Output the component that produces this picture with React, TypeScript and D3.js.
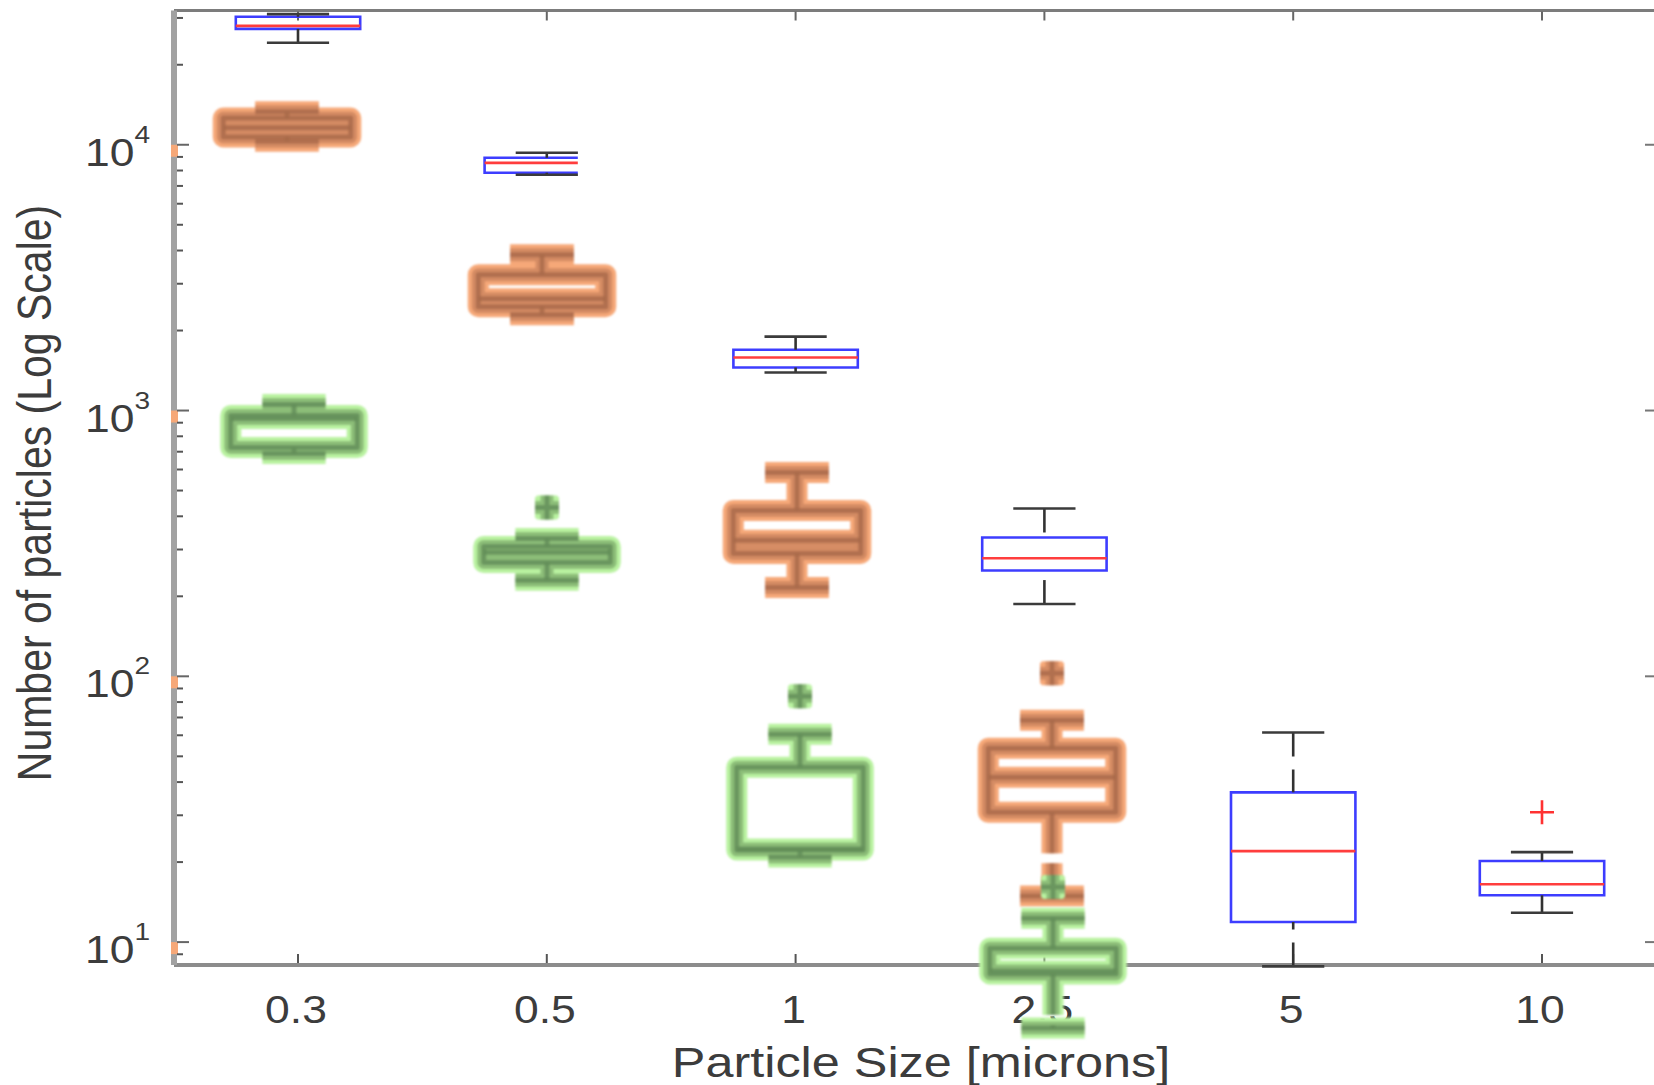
import React, { useEffect, useRef } from 'react';
import * as d3 from 'd3';

const sizes = ['0.3', '0.5', '1', '2.5', '5', '10'];
const decades = [1, 2, 3, 4];

// each box: [lower whisker, q1, median, q3, upper whisker]
const blueBoxes = [
  [24200, 27300, 28000, 30300, 31000],
  [7710, 7850, 8550, 8930, 9330],
  [1390, 1452, 1583, 1694, 1897],
  [187, 250, 278, 333, 428],
  [8.1, 11.9, 22.0, 36.6, 61.5],
  [12.9, 15.0, 16.5, 20.2, 21.8],
];
const blueOutliers = [[], [], [], [], [], [30.8]];

const orangeBoxes = [
  [10300, 10700, 11600, 12600, 13300],
  [2295, 2460, 2636, 3245, 3855],
  [216, 290, 325, 421, 585],
  [14.9, 30.8, 41.7, 53.6, 68.4],
];
const orangeOutliers = [[], [], [], [102.6]];

const greenBoxes = [
  [689, 726, 933, 958, 1054],
  [230, 268, 293, 308, 330],
  [20.9, 22.2, 22.4, 45.5, 60.5],
  [4.75, 7.59, 7.78, 9.49, 12.3],
];
const greenOutliers = [[], [432], [84.1], [16.1]];

const font = '"Liberation Sans", Arial, Helvetica, sans-serif';

export default function App() {
  const ref = useRef(null);

  useEffect(() => {
    document.body.style.margin = '0';
    const svg = d3.select(ref.current);
    svg.selectAll('*').remove();

    const left = 174, top = 10.5, bottom = 965, right = 1654;

    const x = d3.scaleLinear().domain([1, 6]).range([298, 1542]);
    const y = d3.scaleLog().domain([8.2, 32000]).range([bottom, top]);
    // the two thick series were pasted in with a slightly wider spacing
    const xOrange = d3.scaleLinear().domain([1, 4]).range([287, 1052]);
    const xGreen = d3.scaleLinear().domain([1, 4]).range([294, 1053]);

    const defs = svg.append('defs');
    defs.append('filter').attr('id', 'fatBlur')
      .attr('x', '-20%').attr('y', '-20%').attr('width', '140%').attr('height', '140%')
      .append('feGaussianBlur').attr('stdDeviation', 1.2);
    defs.append('filter').attr('id', 'thinBlur')
      .append('feGaussianBlur').attr('stdDeviation', 0.6);
    defs.append('clipPath').attr('id', 'cut05')
      .append('rect').attr('x', 0).attr('y', 0).attr('width', x(2) + 31).attr('height', 1085);

    // paths for one box series; whiskers start at the box edge
    function boxPaths(boxes, outliers, xs, fromCap) {
      const unit = xs(2) - xs(1);
      const hw = unit * 0.25, cw = unit * 0.125, s = 12;
      const out = [];
      boxes.forEach((b, i) => {
        const cx = xs(i + 1);
        const [lw, q1, med, q3, uw] = b.map(v => y(v));
        out.push({ kind: 'box', i, d: `M${cx - hw},${q3}H${cx + hw}V${q1}H${cx - hw}Z` });
        out.push({ kind: 'median', i, d: `M${cx - hw},${med}H${cx + hw}` });
        if (fromCap) {
          out.push({ kind: 'whisker', i, d: `M${cx},${uw}V${q3}` });
          out.push({ kind: 'whisker', i, d: `M${cx},${lw}V${q1}` });
        } else {
          out.push({ kind: 'whisker', i, d: `M${cx},${q3}V${uw}` });
          out.push({ kind: 'whisker', i, d: `M${cx},${q1}V${lw}` });
        }
        out.push({ kind: 'cap', i, d: `M${cx - cw},${uw}H${cx + cw}` });
        out.push({ kind: 'cap', i, d: `M${cx - cw},${lw}H${cx + cw}` });
        outliers[i].forEach(o => {
          const oy = y(o);
          out.push({ kind: 'outlier', i, d: `M${cx - s},${oy}H${cx + s}M${cx},${oy - s}V${oy + s}` });
        });
      });
      return out;
    }

    // axes
    const axes = svg.append('g');
    axes.append('line').attr('x1', left).attr('x2', right).attr('y1', top).attr('y2', top)
      .attr('stroke', '#7c7c7c').attr('stroke-width', 3);
    axes.append('line').attr('x1', left).attr('x2', right).attr('y1', bottom).attr('y2', bottom)
      .attr('stroke', '#8c8c8c').attr('stroke-width', 4);
    axes.append('line').attr('x1', left).attr('x2', left).attr('y1', top).attr('y2', bottom)
      .attr('stroke', '#a2a2a2').attr('stroke-width', 6);

    sizes.forEach((s, i) => {
      axes.append('line').attr('x1', x(i + 1)).attr('x2', x(i + 1))
        .attr('y1', bottom - 2).attr('y2', bottom - 11).attr('stroke', '#555').attr('stroke-width', 2);
      axes.append('line').attr('x1', x(i + 1)).attr('x2', x(i + 1))
        .attr('y1', top + 1).attr('y2', top + 10).attr('stroke', '#666').attr('stroke-width', 2);
    });

    decades.forEach(p => {
      const yy = y(Math.pow(10, p));
      axes.append('rect').attr('x', 171).attr('y', yy).attr('width', 7).attr('height', 12)
        .attr('fill', '#f6a878');
      axes.append('line').attr('x1', 177).attr('x2', 189).attr('y1', yy).attr('y2', yy)
        .attr('stroke', '#666').attr('stroke-width', 2);
      axes.append('line').attr('x1', right).attr('x2', right - 9).attr('y1', yy).attr('y2', yy)
        .attr('stroke', '#777').attr('stroke-width', 2);
    });
    [0, 1, 2, 3, 4].forEach(p => {
      d3.range(2, 10).forEach(k => {
        const v = k * Math.pow(10, p);
        if (v < 8.2 || v > 32000) return;
        axes.append('line').attr('x1', 177).attr('x2', 183).attr('y1', y(v)).attr('y2', y(v))
          .attr('stroke', '#555').attr('stroke-width', 2);
      });
    });

    // tick labels
    const txt = svg.append('g').attr('fill', '#3c3c3c').style('font-family', font);
    sizes.forEach((s, i) => {
      txt.append('text')
        .attr('transform', `translate(${x(i + 1) - 2},1023) scale(1.17,1)`)
        .attr('text-anchor', 'middle').style('font-size', '38px').text(s);
    });
    decades.forEach(p => {
      const t = txt.append('text')
        .attr('transform', `translate(150,${y(Math.pow(10, p)) + 21}) scale(1.17,1)`)
        .attr('text-anchor', 'end').style('font-size', '38px');
      t.append('tspan').text('10');
      t.append('tspan').attr('dy', -23).style('font-size', '24px').text(p);
    });
    txt.append('text')
      .attr('transform', 'translate(921,1077) scale(1.2,1)')
      .attr('text-anchor', 'middle').style('font-size', '42px').text('Particle Size [microns]');
    txt.append('text')
      .attr('transform', 'translate(51,493) scale(1.17,1) rotate(-90)')
      .attr('text-anchor', 'middle').style('font-size', '41px').text('Number of particles (Log Scale)');

    // thick blurred series
    function drawFat(boxes, outliers, xs, colors) {
      const g = svg.append('g').attr('filter', 'url(#fatBlur)').attr('fill', 'none');
      const paths = boxPaths(boxes, outliers, xs, false);
      const passes = [
        { w: 21, c: colors[0], o: 1 },
        { w: 13, c: colors[1], o: 1 },
        { w: 5, c: colors[2], o: 0.8 },
      ];
      passes.forEach(pass => {
        g.selectAll(null).data(paths).enter().append('path')
          .attr('d', d => d.d)
          .attr('stroke', pass.c)
          .attr('stroke-opacity', pass.o)
          .attr('stroke-width', pass.w)
          .attr('stroke-linejoin', 'round')
          .attr('stroke-dasharray', d => d.kind === 'whisker' ? '41 10' : null);
      });
    }
    drawFat(orangeBoxes, orangeOutliers, xOrange, ['#f6a878', '#d48b63', '#a8694a']);
    drawFat(greenBoxes, greenOutliers, xGreen, ['#b9f2a0', '#8cbd78', '#628c58']);

    // standard boxplot
    const bg = svg.append('g').attr('filter', 'url(#thinBlur)').attr('fill', 'none');
    const bpaths = boxPaths(blueBoxes, blueOutliers, x, true);
    const colorOf = { box: '#3d3dff', median: '#ff3d3d', whisker: '#333', cap: '#3a3a3a', outlier: '#ff3030' };
    bg.selectAll(null).data(bpaths).enter().append('path')
      .attr('d', d => d.d)
      .attr('stroke', d => colorOf[d.kind])
      .attr('stroke-width', 2.6)
      .attr('stroke-dasharray', d => d.kind === 'whisker' ? '24 13' : null)
      .attr('clip-path', d => d.i === 1 && (d.kind === 'box' || d.kind === 'median') ? 'url(#cut05)' : null);
  }, []);

  return <svg ref={ref} width={1654} height={1085} style={{ display: 'block', background: '#fff' }} />;
}
